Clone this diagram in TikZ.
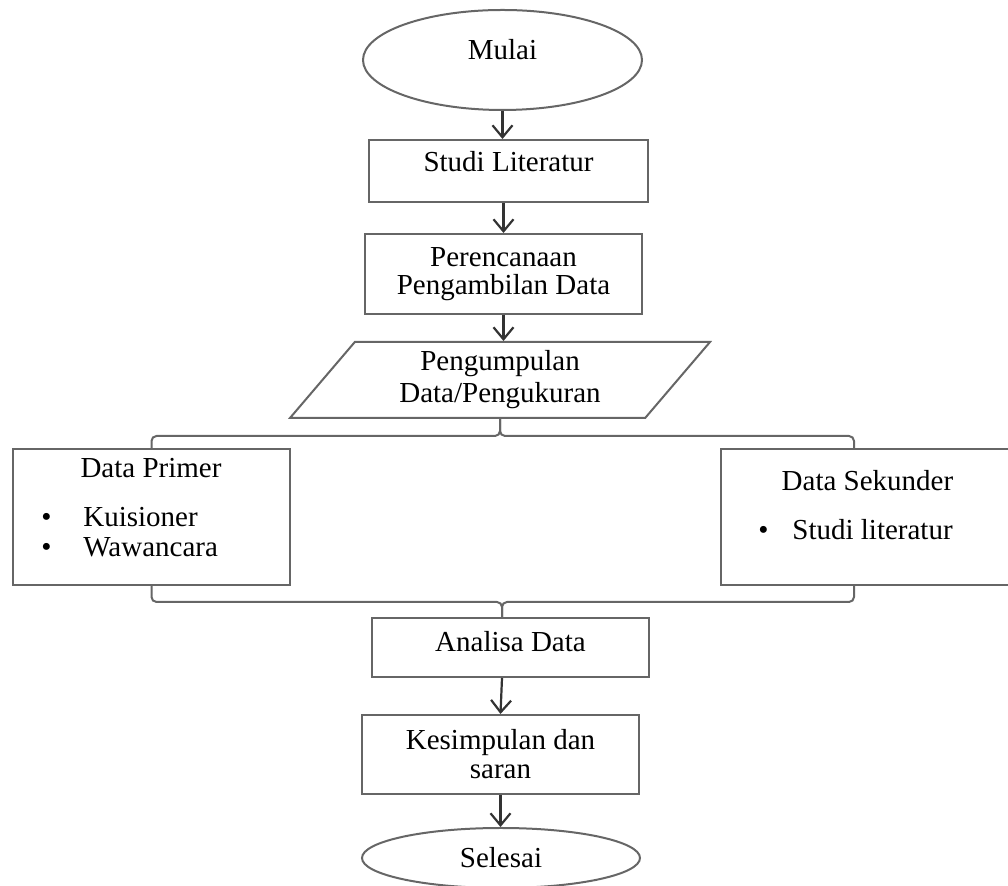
\documentclass[tikz,border=0pt]{standalone}
\usepackage{fontspec}
\setmainfont{Liberation Serif}
\usetikzlibrary{shapes.geometric,arrows.meta}

\tikzset{
    garis/.style={draw=black!60,line width=1pt},
    panah/.style={draw=black!80,line width=1.1pt,-{Straight Barb[length=6pt,width=10pt,line width=1.1pt]}},
    kotak/.style={rectangle,garis,inner sep=0pt,align=center},
    elips/.style={ellipse,garis,inner sep=0pt},
    naik/.style={text height=9.6pt,text depth=#1},
    baris/.style={font=\fontsize{14.5}{#1}\selectfont}
}

\begin{document}
\begin{tikzpicture}[x=0.5pt,y=-0.5pt,font=\fontsize{14.5}{17}\selectfont]
    \useasboundingbox (0,0) rectangle (1008,886);

    \node[elips,minimum width=139.5pt,minimum height=50pt,naik=10pt] (mulai) at (502.5,60) {Mulai};
    \node[kotak,minimum width=139.5pt,minimum height=31pt,naik=9pt] (studi) at (508.5,171) {Studi Literatur};
    \node[kotak,minimum width=138.5pt,minimum height=40pt,baris=14pt] (perencanaan) at (503.5,274) {Perencanaan\\Pengambilan Data};
    \node[trapezium,trapezium left angle=42,trapezium right angle=138,trapezium stretches body,
          garis,inner sep=0pt,align=center,minimum width=210pt,minimum height=38pt,baris=16pt]
          (pengumpulan) at (500,380) {Pengumpulan\\Data/Pengukuran};

    \node[kotak,minimum width=138.5pt,minimum height=68pt] (primer) at (151.5,517) {};
    \node[kotak,minimum width=149.5pt,minimum height=68pt] (sekunder) at (870.5,517) {};
    \node[anchor=base,inner sep=0pt] (judulprimer) at (151,478) {Data Primer};
    \node[anchor=base west,inner sep=0pt] (kuisioner) at (41,527) {\makebox[21pt][l]{\textbullet}Kuisioner};
    \node[anchor=base west,inner sep=0pt] (wawancara) at (41,557) {\makebox[21pt][l]{\textbullet}Wawancara};
    \node[anchor=base,inner sep=0pt] (judulsekunder) at (867.5,491) {Data Sekunder};
    \node[anchor=base west,inner sep=0pt] (literatur) at (758,540) {\makebox[17pt][l]{\textbullet}Studi literatur};

    \node[kotak,minimum width=138.5pt,minimum height=29.5pt,naik=5.5pt] (analisa) at (510.5,647.5) {Analisa Data};
    \node[kotak,minimum width=138.5pt,minimum height=39.5pt,baris=14.5pt] (kesimpulan) at (500.5,754.5) {Kesimpulan dan\\saran};
    \node[elips,minimum width=139pt,minimum height=30pt,naik=0pt] (selesai) at (501,858) {Selesai};

    \draw[panah] (mulai.south) -- (mulai.south |- studi.north);
    \draw[panah] (perencanaan.north |- studi.south) -- (perencanaan.north);
    \draw[panah] (perencanaan.south) -- (perencanaan.south |- pengumpulan.north);

    \coordinate (tengahatas) at ([yshift=-8.5pt]pengumpulan.south);
    \coordinate (kananatas) at ([xshift=67pt]sekunder.north west);
    \draw[garis,rounded corners=2.5pt] (primer.north) |- (tengahatas) -- (pengumpulan.south);
    \draw[garis,rounded corners=2.5pt] (kananatas) |- (tengahatas) -- (pengumpulan.south);

    \coordinate (tengahbawah) at ([xshift=-4.25pt,yshift=7.5pt]analisa.north);
    \coordinate (kananbawah) at ([xshift=67pt]sekunder.south west);
    \draw[garis,rounded corners=2.5pt] (primer.south) |- (tengahbawah) -- (tengahbawah |- analisa.north);
    \draw[garis,rounded corners=2.5pt] (kananbawah) |- (tengahbawah) -- (tengahbawah |- analisa.north);

    \draw[panah] (tengahbawah |- analisa.south) -- (kesimpulan.north);
    \draw[panah] (kesimpulan.south) -- (kesimpulan.south |- selesai.north);
\end{tikzpicture}
\end{document}
